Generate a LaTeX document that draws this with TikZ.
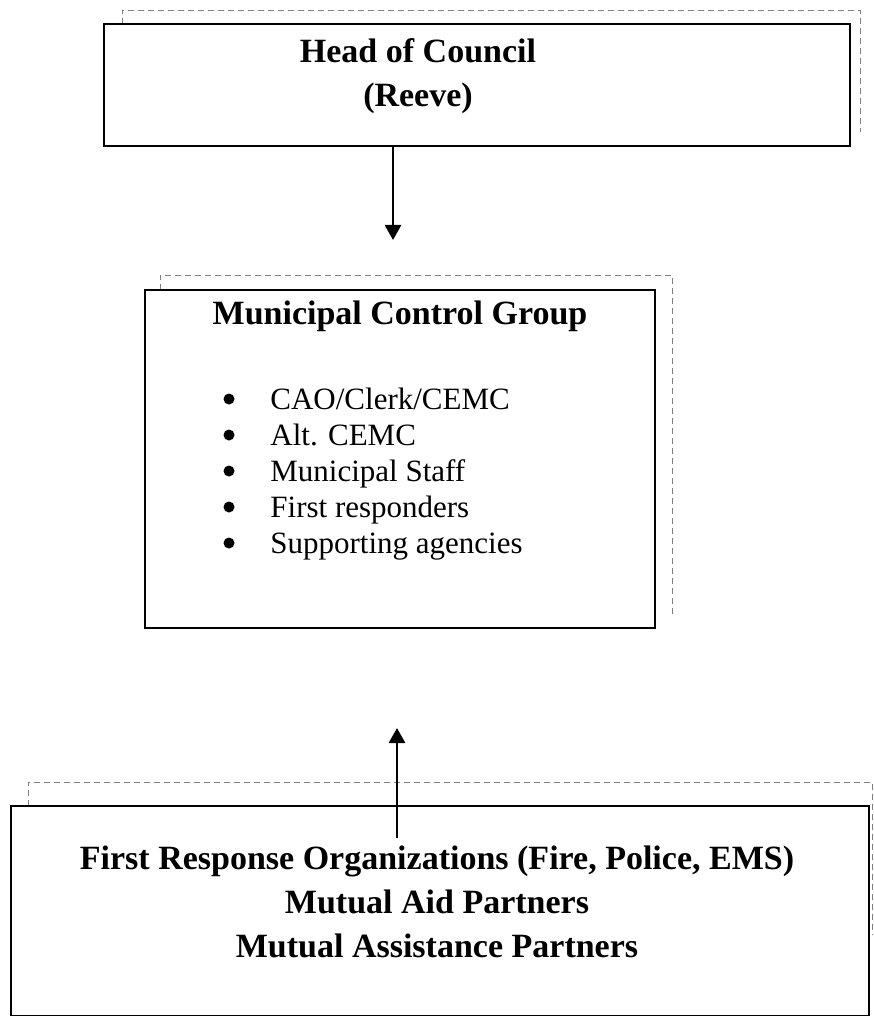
\documentclass[tikz,border=0pt]{standalone}
\usepackage{fontspec}
\setmainfont{Liberation Serif}
\usetikzlibrary{arrows.meta,positioning,calc,backgrounds}

\begin{document}
\begin{tikzpicture}[x=0.5pt, y=-0.5pt,
  box/.style={draw, line width=1.4pt, fill=white, inner sep=0pt},
  ghost/.style={draw=gray, densely dashed, line width=0.4pt},
  ttl/.style={font=\fontsize{17}{22}\selectfont\bfseries, align=center, inner sep=0pt},
  itm/.style={font=\fontsize{15.5}{18}\selectfont, anchor=base west, inner sep=0pt},
  dot/.style={circle, fill, inner sep=0pt, minimum size=5.5pt},
  arr/.style={-{Triangle[length=7.5pt, width=8pt]}, line width=1.4pt}
]
\useasboundingbox (0,0) rectangle (873,1016);

% ---------- head of council ----------
\node[box, minimum width=373pt, minimum height=61pt] (head) at (477,85) {};
\node[ttl] (headtxt) at (418,76) {Head of Council\\(Reeve)};

% ---------- control group ----------
\node[box, minimum width=255pt, minimum height=169pt] (mcg) at (400,459) {};
\node[ttl] (mcgtxt) at (400,316) {Municipal Control Group};
\foreach \t [count=\i] in {{CAO/Clerk/CEMC}, {Alt. CEMC}, {Municipal Staff},
                          {First responders}, {Supporting agencies}} {
  \node[itm] (item\i) at (270,{373+36*\i}) {\t};
  \node[dot] (dot\i) at (229,{363+36*\i}) {};
}

% ---------- responders ----------
\node[box, minimum width=429pt, minimum height=105pt] (fro) at (440,911) {};
\node[ttl] (frotxt) at (437,902)
  {First Response Organizations (Fire, Police, EMS)\\Mutual Aid Partners\\Mutual Assistance Partners};

% scan shadows
\begin{scope}[on background layer]
  \draw[ghost] (122,24) |- (860,10) -- (860,132);
  \draw[ghost] (160,290) |- (672,275) -- (672,614);
  \draw[ghost] (28,806) |- (872,782) -- (872,935);
\end{scope}

% ---------- connectors ----------
\coordinate (tip1) at (393,240);
\coordinate (tip2) at (397,728);
\coordinate (foot2) at (397,838);
\draw[arr] (head.south -| tip1) -- (tip1);
\draw[arr] (foot2) -- (tip2);

\end{tikzpicture}
\end{document}
